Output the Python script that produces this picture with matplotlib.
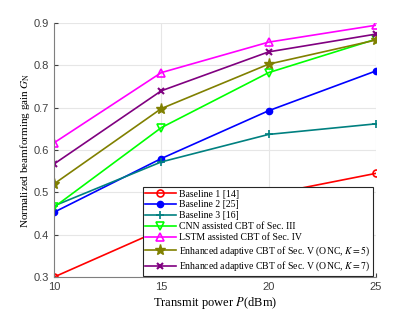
import numpy as np
import matplotlib.pyplot as plt

plt.rcParams['mathtext.fontset'] = 'stix'

power = [10, 15, 20, 25]
baseline1 = [0.300, 0.412, 0.495, 0.545]
baseline2 = [0.453, 0.580, 0.693, 0.787]
baseline3 = [0.468, 0.572, 0.637, 0.662]
cnn = [0.465, 0.653, 0.783, 0.862]
lstm = [0.617, 0.783, 0.855, 0.895]
onc5 = [0.520, 0.698, 0.803, 0.860]
onc7 = [0.567, 0.740, 0.832, 0.874]

labels = ['Baseline 1 [14]', 'Baseline 2 [25]', 'Baseline 3 [16]',
          'CNN assisted CBT of Sec. III', 'LSTM assisted CBT of Sec. IV',
          'Enhanced adaptive CBT of Sec. V (ONC, $K=5$)',
          'Enhanced adaptive CBT of Sec. V (ONC, $K=7$)']

fig = plt.figure(figsize=(4.15, 3.12), dpi=100)
ax = fig.add_axes([0.13, 0.112, 0.776, 0.814])

ax.plot(power, baseline1, color='red', marker='o', mfc='none', ms=5, mew=1.2, lw=1.2)
ax.plot(power, baseline2, color='blue', marker='o', ms=4.5, lw=1.2)
ax.plot(power, baseline3, color=(0, 0.5, 0.5), marker='+', ms=6, mew=1.2, lw=1.2)
ax.plot(power, cnn, color=(0, 1, 0), marker='v', mfc='none', ms=6, mew=1.2, lw=1.2)
ax.plot(power, lstm, color='magenta', marker='^', mfc='none', ms=6, mew=1.2, lw=1.2)
ax.plot(power, onc5, color=(0.5, 0.5, 0), marker='*', ms=8, lw=1.2)
ax.plot(power, onc7, color=(0.5, 0, 0.5), marker='x', ms=4, mew=1.5, lw=1.2)

ax.set_xlim(10, 25)
ax.set_ylim(0.3, 0.9)
ax.set_xticks([10, 15, 20, 25])
ax.set_yticks([0.3, 0.4, 0.5, 0.6, 0.7, 0.8, 0.9])
ax.grid(True, color='#e6e6e6', lw=0.8)
for s in ['top', 'right']:
    ax.spines[s].set_visible(False)
for s in ['left', 'bottom']:
    ax.spines[s].set_color('#7f7f7f')
ax.tick_params(colors='#404040', labelsize=8, length=3, direction='in')
for t in ax.get_xticklabels() + ax.get_yticklabels():
    t.set_fontfamily('Liberation Sans')

ax.set_xlabel('Transmit power $P$(dBm)', fontfamily='Liberation Serif', fontsize=9, labelpad=2)
ax.set_ylabel('Normalized beamforming gain $G_{\\mathrm{N}}$', fontfamily='Liberation Serif', fontsize=8, labelpad=1)

leg = ax.legend(labels, loc='lower right', bbox_to_anchor=(0.995, 0.0),
                prop={'family': 'Liberation Serif', 'size': 7},
                fancybox=False, edgecolor='#262626', framealpha=1,
                handlelength=3.1, labelspacing=0.2, borderpad=0.3,
                handletextpad=0.4, borderaxespad=0.1)
leg.get_frame().set_linewidth(0.8)

fig.savefig('out.png', dpi=100)
